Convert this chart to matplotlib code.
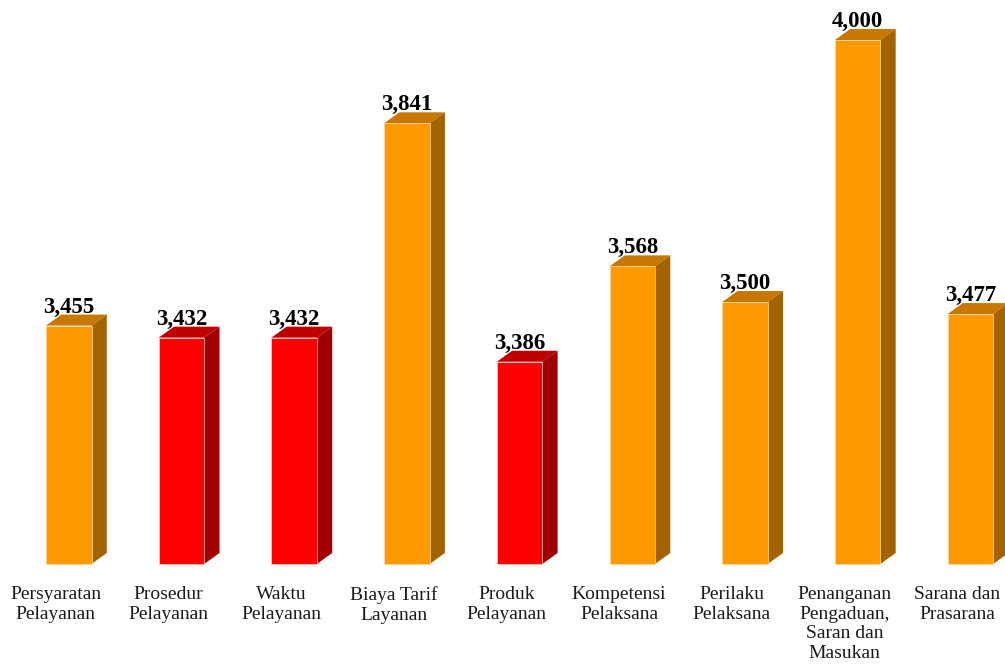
import matplotlib
matplotlib.use("Agg")
import matplotlib.pyplot as plt
from matplotlib.patches import Polygon

categories = ["Persyaratan\nPelayanan", "Prosedur\nPelayanan", "Waktu\nPelayanan",
              "Biaya Tarif\nLayanan", "Produk\nPelayanan", "Kompetensi\nPelaksana",
              "Perilaku\nPelaksana", "Penanganan\nPengaduan,\nSaran dan\nMasukan",
              "Sarana dan\nPrasarana"]
values = [3.455, 3.432, 3.432, 3.841, 3.386, 3.568, 3.500, 4.000, 3.477]
value_labels = ["3,455", "3,432", "3,432", "3,841", "3,386", "3,568", "3,500", "4,000", "3,477"]
is_low = [False, True, True, False, True, False, False, False, False]

orange = ("#FF9900", "#C87800", "#A36400")
red = ("#FF0000", "#C00000", "#A00000")

W, H = 1005, 664
fig = plt.figure(figsize=(W / 100, H / 100), dpi=100)
slot = 112.7
left_px = 55.5 - 0.5 * slot
base_px = 564
top_px = 40
ax = fig.add_axes([left_px / W, (H - base_px) / H, 9 * slot / W, (base_px - top_px) / H])
ymin, ymax = 3.0, 4.0
ax.set_xlim(-0.5, 8.5)
ax.set_ylim(ymin, ymax)

off = -9.5 / slot
bw = 45.5 / slot
dx = 15.3 / slot
dy = 11.0 / (base_px - top_px) * (ymax - ymin)

for i, (v, low) in enumerate(zip(values, is_low)):
    front, top, side = red if low else orange
    x0 = i + off
    ax.bar(x0, v - ymin, width=bw, bottom=ymin, align="edge", color=front,
           edgecolor="#ffd0c0" if low else "#ffd9a0", linewidth=0.5, clip_on=False, zorder=3)
    ax.add_patch(Polygon([(x0, v), (x0 + bw, v), (x0 + bw + dx, v + dy), (x0 + dx, v + dy)],
                         closed=True, facecolor=top, edgecolor="none", clip_on=False, zorder=2))
    ax.add_patch(Polygon([(x0 + bw, ymin), (x0 + bw + dx, ymin + dy), (x0 + bw + dx, v + dy), (x0 + bw, v)],
                         closed=True, facecolor=side, edgecolor="none", clip_on=False, zorder=2))
    ax.annotate(value_labels[i], (x0 + bw / 2, v + dy), xytext=(0, 1.5), textcoords="offset points",
                ha="center", va="baseline", fontsize=16.5, fontweight="bold",
                family="Liberation Serif", color="black", annotation_clip=False)

ax.set_xticks(range(len(categories)))
ax.set_xticklabels(categories, fontsize=14, family="Liberation Serif", color="#1a1a1a",
                   linespacing=1.2)
ax.tick_params(axis="x", length=0, pad=16)
ax.set_yticks([])
for s in ax.spines.values():
    s.set_visible(False)
ax.patch.set_alpha(0)

fig.savefig("out.png", dpi=100, facecolor="white")
